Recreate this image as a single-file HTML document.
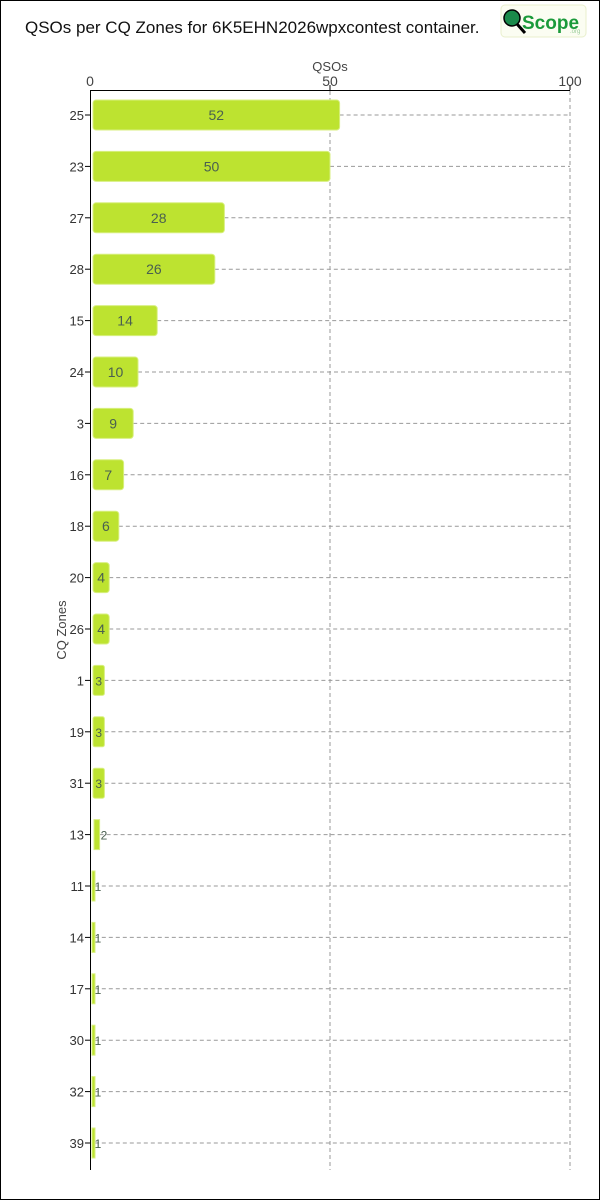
<!DOCTYPE html>
<html><head><meta charset="utf-8"><style>
html,body{margin:0;padding:0;background:#fff}
svg{display:block;font-family:"Liberation Sans","DejaVu Sans",sans-serif}
.g{stroke:#999;stroke-dasharray:4,3}
.b{fill:#bde330;stroke:#d8ef80}
.l{text-anchor:end;fill:#333;font-size:13px}
.v{text-anchor:middle;fill:#4a6050;font-size:14px}
.s{text-anchor:middle;fill:#4a6050;font-size:12px}
</style></head><body>
<svg width="600" height="1200" viewBox="0 0 600 1200" xmlns="http://www.w3.org/2000/svg">
<rect x="0.5" y="0.5" width="599" height="1199" fill="#fff" stroke="#000"/>
<text x="25" y="33" font-size="17" fill="#111">QSOs per CQ Zones for 6K5EHN2026wpxcontest container.</text>
<rect x="501" y="5" width="85" height="32" rx="4" fill="#fbfdf2" stroke="#e8efcc"/>
<circle cx="512" cy="18" r="8" fill="#1a8a4a" stroke="#000" stroke-width="1.5"/>
<line x1="517" y1="24" x2="525" y2="33" stroke="#000" stroke-width="3"/>
<text x="522" y="29" font-size="19" font-weight="bold" fill="#1a9a3a">Scope</text>
<text x="570" y="33" font-size="6" fill="#9c9">.org</text>
<text x="330" y="71" font-size="13" fill="#444" text-anchor="middle">QSOs</text>
<g font-size="14" fill="#444" text-anchor="middle">
<text x="90" y="86">0</text><text x="330" y="86">50</text><text x="570" y="86">100</text>
</g>
<line x1="90" y1="90.5" x2="570" y2="90.5" stroke="#000"/>
<line x1="330" y1="85" x2="330" y2="90" stroke="#000"/><line x1="570" y1="85" x2="570" y2="90" stroke="#000"/>
<line x1="330" y1="91" x2="330" y2="1170" class="g"/>
<line x1="570" y1="91" x2="570" y2="1170" class="g"/>
<text transform="translate(66,630) rotate(-90)" font-size="13" fill="#444" text-anchor="middle">CQ Zones</text>

<g transform="translate(0,115)"><line x1="339.6" y1="0" x2="570" y2="0" class="g"/><line x1="85" y1="0" x2="90" y2="0" stroke="#000"/><text x="84" y="5" class="l">25</text><rect x="93" y="-15" width="246.6" height="30" rx="3" class="b"/><text x="216.3" y="5" class="v">52</text></g>
<g transform="translate(0,166.4)"><line x1="330" y1="0" x2="570" y2="0" class="g"/><line x1="85" y1="0" x2="90" y2="0" stroke="#000"/><text x="84" y="5" class="l">23</text><rect x="93" y="-15" width="237" height="30" rx="3" class="b"/><text x="211.5" y="5" class="v">50</text></g>
<g transform="translate(0,217.8)"><line x1="224.4" y1="0" x2="570" y2="0" class="g"/><line x1="85" y1="0" x2="90" y2="0" stroke="#000"/><text x="84" y="5" class="l">27</text><rect x="93" y="-15" width="131.4" height="30" rx="3" class="b"/><text x="158.7" y="5" class="v">28</text></g>
<g transform="translate(0,269.2)"><line x1="214.8" y1="0" x2="570" y2="0" class="g"/><line x1="85" y1="0" x2="90" y2="0" stroke="#000"/><text x="84" y="5" class="l">28</text><rect x="93" y="-15" width="121.8" height="30" rx="3" class="b"/><text x="153.9" y="5" class="v">26</text></g>
<g transform="translate(0,320.6)"><line x1="157.2" y1="0" x2="570" y2="0" class="g"/><line x1="85" y1="0" x2="90" y2="0" stroke="#000"/><text x="84" y="5" class="l">15</text><rect x="93" y="-15" width="64.2" height="30" rx="3" class="b"/><text x="125.1" y="5" class="v">14</text></g>
<g transform="translate(0,372)"><line x1="138" y1="0" x2="570" y2="0" class="g"/><line x1="85" y1="0" x2="90" y2="0" stroke="#000"/><text x="84" y="5" class="l">24</text><rect x="93" y="-15" width="45" height="30" rx="3" class="b"/><text x="115.5" y="5" class="v">10</text></g>
<g transform="translate(0,423.4)"><line x1="133.2" y1="0" x2="570" y2="0" class="g"/><line x1="85" y1="0" x2="90" y2="0" stroke="#000"/><text x="84" y="5" class="l">3</text><rect x="93" y="-15" width="40.2" height="30" rx="3" class="b"/><text x="113.1" y="5" class="v">9</text></g>
<g transform="translate(0,474.8)"><line x1="123.6" y1="0" x2="570" y2="0" class="g"/><line x1="85" y1="0" x2="90" y2="0" stroke="#000"/><text x="84" y="5" class="l">16</text><rect x="93" y="-15" width="30.6" height="30" rx="3" class="b"/><text x="108.3" y="5" class="v">7</text></g>
<g transform="translate(0,526.2)"><line x1="118.8" y1="0" x2="570" y2="0" class="g"/><line x1="85" y1="0" x2="90" y2="0" stroke="#000"/><text x="84" y="5" class="l">18</text><rect x="93" y="-15" width="25.8" height="30" rx="3" class="b"/><text x="105.9" y="5" class="v">6</text></g>
<g transform="translate(0,577.6)"><line x1="109.2" y1="0" x2="570" y2="0" class="g"/><line x1="85" y1="0" x2="90" y2="0" stroke="#000"/><text x="84" y="5" class="l">20</text><rect x="93" y="-15" width="16.2" height="30" rx="3" class="b"/><text x="101.1" y="5" class="v">4</text></g>
<g transform="translate(0,629)"><line x1="109.2" y1="0" x2="570" y2="0" class="g"/><line x1="85" y1="0" x2="90" y2="0" stroke="#000"/><text x="84" y="5" class="l">26</text><rect x="93" y="-15" width="16.2" height="30" rx="3" class="b"/><text x="101.1" y="5" class="v">4</text></g>
<g transform="translate(0,680.4)"><line x1="104.4" y1="0" x2="570" y2="0" class="g"/><line x1="85" y1="0" x2="90" y2="0" stroke="#000"/><text x="84" y="5" class="l">1</text><rect x="93" y="-15" width="11.4" height="30" rx="2" class="b"/><text x="98.7" y="5" class="s">3</text></g>
<g transform="translate(0,731.8)"><line x1="104.4" y1="0" x2="570" y2="0" class="g"/><line x1="85" y1="0" x2="90" y2="0" stroke="#000"/><text x="84" y="5" class="l">19</text><rect x="93" y="-15" width="11.4" height="30" rx="2" class="b"/><text x="98.7" y="5" class="s">3</text></g>
<g transform="translate(0,783.2)"><line x1="104.4" y1="0" x2="570" y2="0" class="g"/><line x1="85" y1="0" x2="90" y2="0" stroke="#000"/><text x="84" y="5" class="l">31</text><rect x="93" y="-15" width="11.4" height="30" rx="2" class="b"/><text x="98.7" y="5" class="s">3</text></g>
<g transform="translate(0,834.6)"><line x1="99.6" y1="0" x2="570" y2="0" class="g"/><line x1="85" y1="0" x2="90" y2="0" stroke="#000"/><text x="84" y="5" class="l">13</text><rect x="94" y="-15" width="5.6" height="30" class="b"/><text x="104" y="5" class="s">2</text></g>
<g transform="translate(0,886)"><line x1="94.8" y1="0" x2="570" y2="0" class="g"/><line x1="85" y1="0" x2="90" y2="0" stroke="#000"/><text x="84" y="5" class="l">11</text><rect x="92" y="-15" width="3" height="30" class="b"/><text x="98" y="5" class="s">1</text></g>
<g transform="translate(0,937.4)"><line x1="94.8" y1="0" x2="570" y2="0" class="g"/><line x1="85" y1="0" x2="90" y2="0" stroke="#000"/><text x="84" y="5" class="l">14</text><rect x="92" y="-15" width="3" height="30" class="b"/><text x="98" y="5" class="s">1</text></g>
<g transform="translate(0,988.8)"><line x1="94.8" y1="0" x2="570" y2="0" class="g"/><line x1="85" y1="0" x2="90" y2="0" stroke="#000"/><text x="84" y="5" class="l">17</text><rect x="92" y="-15" width="3" height="30" class="b"/><text x="98" y="5" class="s">1</text></g>
<g transform="translate(0,1040.2)"><line x1="94.8" y1="0" x2="570" y2="0" class="g"/><line x1="85" y1="0" x2="90" y2="0" stroke="#000"/><text x="84" y="5" class="l">30</text><rect x="92" y="-15" width="3" height="30" class="b"/><text x="98" y="5" class="s">1</text></g>
<g transform="translate(0,1091.6)"><line x1="94.8" y1="0" x2="570" y2="0" class="g"/><line x1="85" y1="0" x2="90" y2="0" stroke="#000"/><text x="84" y="5" class="l">32</text><rect x="92" y="-15" width="3" height="30" class="b"/><text x="98" y="5" class="s">1</text></g>
<g transform="translate(0,1143)"><line x1="94.8" y1="0" x2="570" y2="0" class="g"/><line x1="85" y1="0" x2="90" y2="0" stroke="#000"/><text x="84" y="5" class="l">39</text><rect x="92" y="-15" width="3" height="30" class="b"/><text x="98" y="5" class="s">1</text></g>
<line x1="90.5" y1="90" x2="90.5" y2="1170" stroke="#000"/>
</svg>
</body></html>
